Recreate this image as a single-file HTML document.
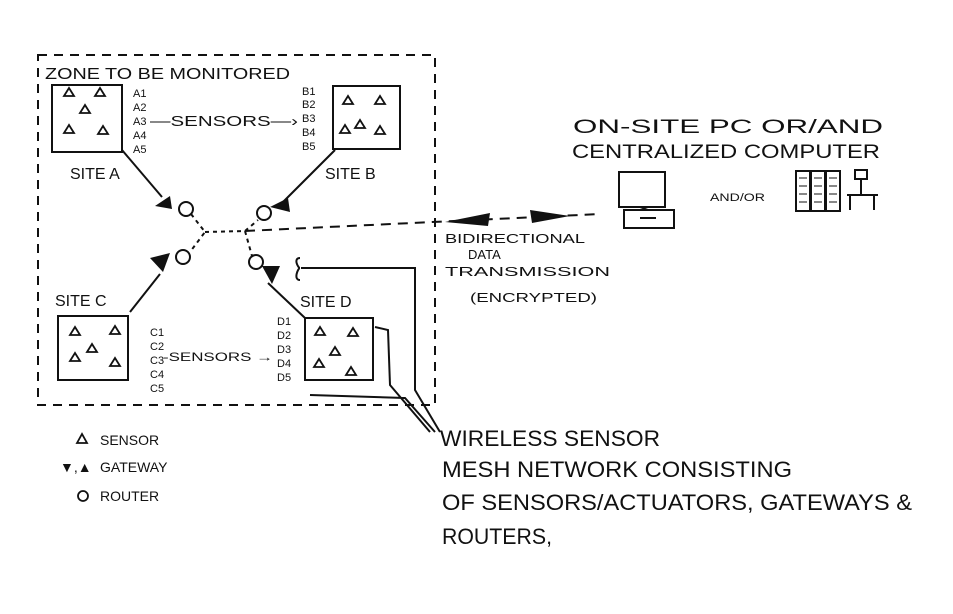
<!DOCTYPE html>
<html><head><meta charset="utf-8"><style>
html,body{margin:0;padding:0;background:#fff}
svg{display:block}
text{font-family:"Liberation Sans",sans-serif;fill:#111}
</style></head><body>
<svg width="953" height="614" viewBox="0 0 953 614" xmlns="http://www.w3.org/2000/svg">
<g stroke="#111" fill="none" stroke-width="2">
<rect x="38" y="55" width="397" height="350" stroke-dasharray="9,7"/>
<rect x="52" y="85" width="70" height="67"/>
<rect x="333" y="86" width="67" height="63"/>
<rect x="58" y="316" width="70" height="64"/>
<rect x="305" y="318" width="68" height="62"/>
<path d="M122 150 L162 197"/>
<path d="M335 150 L282 203"/>
<path d="M130 312 L160 274"/>
<path d="M268 283 L305 318"/>
<circle cx="186" cy="209" r="7"/>
<circle cx="264" cy="213" r="7"/>
<circle cx="183" cy="257" r="7"/>
<circle cx="256" cy="262" r="7"/>
<path d="M191 214 L205 232 L190 252 M205 232 L245 231 L258 220 M245 231 L252 256" stroke-dasharray="4,4"/>
<path d="M245 231 L600 214" stroke-dasharray="10,7"/>
<path d="M300 258 C293 258 298 268 300 268 C298 268 293 280 300 280 M301 268 L415 268 L415 390 L440 432 M375 327 L388 330 L390 385 L430 432 M310 395 L405 398 L435 432"/>
<rect x="619" y="172" width="46" height="35"/>
<rect x="624" y="210" width="50" height="18"/>
<path d="M640 207 L648 210"/>
<rect x="796" y="171" width="14" height="40"/><rect x="811" y="171" width="14" height="40"/><rect x="826" y="171" width="14" height="40"/>
<path d="M799 178h8M799 186h8M799 194h8M799 202h8M814 178h8M814 186h8M814 194h8M814 202h8M829 178h8M829 186h8M829 194h8M829 202h8" stroke-width="1"/>
<rect x="855" y="170" width="12" height="9"/>
<path d="M861 179 V195 M847 195 H878 M850 195 V210 M874 195 V210"/>
</g>
<g fill="#111">
<polygon points="155,206 170,196 172,209"/>
<polygon points="270,207 288,198 290,212"/>
<polygon points="150,258 170,253 163,272"/>
<polygon points="262,266 280,266 272,284"/>
<polygon points="445,222 490,213 488,226"/>
<polygon points="570,216 530,210 532,223"/>
<rect x="640" y="217" width="16" height="2"/>
</g>
<g fill="none" stroke="#111" stroke-width="1.8">
<path d="M64 96 l5 -8 l5 8z M95 96 l5 -8 l5 8z M80 113 l5 -8 l5 8z M64 133 l5 -8 l5 8z M98 134 l5 -8 l5 8z"/>
<path d="M343 104 l5 -8 l5 8z M375 104 l5 -8 l5 8z M340 133 l5 -8 l5 8z M355 128 l5 -8 l5 8z M375 134 l5 -8 l5 8z"/>
<path d="M70 335 l5 -8 l5 8z M110 334 l5 -8 l5 8z M87 352 l5 -8 l5 8z M70 361 l5 -8 l5 8z M110 366 l5 -8 l5 8z"/>
<path d="M315 335 l5 -8 l5 8z M348 336 l5 -8 l5 8z M330 355 l5 -8 l5 8z M314 367 l5 -8 l5 8z M346 375 l5 -8 l5 8z"/>
<path d="M77 443 l5 -9 l5 9z"/>
<circle cx="83" cy="496" r="5"/>
</g>
<text x="45" y="79" font-size="16" textLength="245" lengthAdjust="spacingAndGlyphs">ZONE TO BE MONITORED</text>
<g font-size="11">
<text x="133" y="97">A1</text><text x="133" y="111">A2</text><text x="133" y="125">A3</text><text x="133" y="139">A4</text><text x="133" y="153">A5</text>
<text x="302" y="95">B1</text><text x="302" y="108">B2</text><text x="302" y="122">B3</text><text x="302" y="136">B4</text><text x="302" y="150">B5</text>
<text x="150" y="336">C1</text><text x="150" y="350">C2</text><text x="150" y="364">C3</text><text x="150" y="378">C4</text><text x="150" y="392">C5</text>
<text x="277" y="325">D1</text><text x="277" y="339">D2</text><text x="277" y="353">D3</text><text x="277" y="367">D4</text><text x="277" y="381">D5</text>
</g>
<text x="150" y="126" font-size="15" textLength="148" lengthAdjust="spacingAndGlyphs">—SENSORS—›</text>
<text x="163" y="361" font-size="12" textLength="110" lengthAdjust="spacingAndGlyphs">-SENSORS →</text>
<g font-size="16">
<text x="70" y="179">SITE A</text><text x="325" y="179">SITE B</text>
<text x="55" y="306">SITE C</text><text x="300" y="307">SITE D</text>
</g>
<g font-size="14">
<text x="100" y="445">SENSOR</text>
<text x="60" y="472" font-size="14">▼,▲</text><text x="100" y="472">GATEWAY</text>
<text x="100" y="501">ROUTER</text>
</g>
<g font-size="13">
<text x="445" y="243" textLength="140" lengthAdjust="spacingAndGlyphs">BIDIRECTIONAL</text>
<text x="468" y="259">DATA</text>
<text x="445" y="276" textLength="165" lengthAdjust="spacingAndGlyphs">TRANSMISSION</text>
<text x="470" y="302" textLength="127" lengthAdjust="spacingAndGlyphs">(ENCRYPTED)</text>
</g>
<text x="573" y="133" font-size="19" textLength="310" lengthAdjust="spacingAndGlyphs">ON-SITE PC   OR/AND</text>
<text x="572" y="158" font-size="19" textLength="308" lengthAdjust="spacingAndGlyphs">CENTRALIZED COMPUTER</text>
<text x="710" y="201" font-size="11" textLength="55" lengthAdjust="spacingAndGlyphs">AND/OR</text>
<g font-size="22">
<text x="440" y="446" textLength="220" lengthAdjust="spacingAndGlyphs">WIRELESS SENSOR</text>
<text x="442" y="477" textLength="350" lengthAdjust="spacingAndGlyphs">MESH NETWORK CONSISTING</text>
<text x="442" y="510" textLength="470" lengthAdjust="spacingAndGlyphs">OF SENSORS/ACTUATORS, GATEWAYS &amp;</text>
<text x="442" y="544" textLength="110" lengthAdjust="spacingAndGlyphs">ROUTERS,</text>
</g>
</svg>
</body></html>
